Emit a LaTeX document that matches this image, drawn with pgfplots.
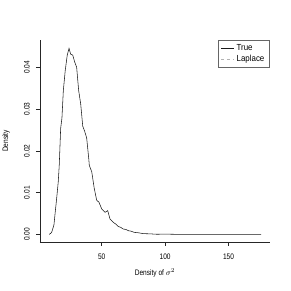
\documentclass[border=0pt]{standalone}
\usepackage{fontspec}
\setmainfont{Liberation Sans}
\newfontfamily\axfont[FakeStretch=0.82]{Liberation Sans}
\newfontfamily\lgfont[FakeStretch=0.9]{Liberation Sans}
\usepackage{pgfplots}
\pgfplotsset{compat=1.18}
\newcommand{\fs}{\axfont\fontsize{8}{9.6}\selectfont}
\newcommand{\lfs}{\lgfont\fontsize{8.8}{10.7}\selectfont}
\begin{document}
\begin{tikzpicture}
\useasboundingbox (-40pt,-49pt) rectangle (251pt,242pt);
\begin{axis}[
  anchor=south west,
  scale only axis, width=230pt, height=202pt,
  xmin=1.3, xmax=182.7, ymin=-0.0018, ymax=0.0465,
  axis lines*=left,
  axis line style={black!85, line width=0.5pt},
  tick align=outside, tick style={black!85, line width=0.5pt}, major tick length=4pt,
  xtick={50,100,150}, ytick={0,0.01,0.02,0.03,0.04},
  xtick pos=bottom, ytick pos=left,
  /pgf/number format/assume math mode=true,
  yticklabel style={/pgf/number format/fixed, /pgf/number format/zerofill, /pgf/number format/precision=2},
  yticklabel style={rotate=90, anchor=south, font=\fs, inner sep=0pt},
  yticklabel shift=6pt,
  xticklabel style={font=\fs, inner sep=0pt, anchor=north},
  xticklabel shift=8pt,
  scaled y ticks=false,
  xlabel={Density of\ $\sigma^2$}, ylabel={Density},
  xlabel style={at={(axis description cs:0.5,-0.1535)}, anchor=center, font=\fs},
  ylabel style={at={(axis description cs:-0.148,0.5)}, anchor=center, font=\fs},
  legend style={at={(0.996,1)}, anchor=north east, draw=black!60, line width=0.4pt, font=\lfs,
    inner xsep=2.5pt, inner ysep=2.5pt, row sep=-1pt,
    legend cell align=left},
  legend image code/.code={\draw[#1] (0pt,0pt) -- (13pt,0pt);},
]
\addplot[black!90, line width=0.55pt] coordinates {
(8.6,0.0000) (10.5,0.0005) (12.3,0.0023) (13.3,0.0053) (14.4,0.0085) (15.7,0.0126)
(16.5,0.0167) (17.6,0.0254) (18.6,0.0278) (19.7,0.0344) (21.2,0.0392) (22.8,0.0429)
(24.2,0.0445) (25.5,0.0431) (27.1,0.0429) (28.7,0.0412) (30.2,0.0400) (31.8,0.0344)
(33.4,0.0312) (35.0,0.0259) (36.5,0.0247) (38.1,0.0231) (39.7,0.0183) (40.2,0.0165)
(42.1,0.0150) (44.1,0.0110) (46.0,0.0082) (47.8,0.0077) (50.0,0.0061) (52.6,0.0053)
(54.7,0.0057) (56.5,0.0037) (59.1,0.0029) (61.0,0.0025) (63.1,0.0019) (65.0,0.0017)
(67.0,0.0013) (69.0,0.0012) (71.0,0.0009) (73.0,0.0008) (75.7,0.0005) (79.0,0.0004)
(82.8,0.0002) (88.0,0.00015) (93.4,0.00005) (100,0.00008) (110,0.00003) (120,0.0)
(140,0.0) (160,0.0) (175.7,0.0)
};
\addlegendentry{True}
\addlegendimage{gray!60, dashed, line width=0.4pt}
\addlegendentry{Laplace}
\end{axis}
\end{tikzpicture}
\end{document}
